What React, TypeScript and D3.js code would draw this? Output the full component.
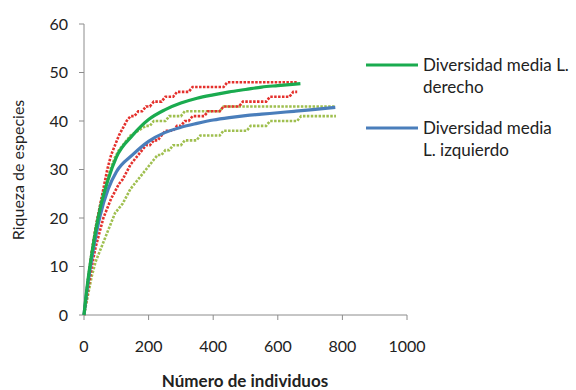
import * as d3 from "d3";

// individuals axis for the dotted rarefaction samples (every 12 individuals)
const sampleStep = 12;

// dotted series, L. derecho (red) upper / lower
const redUpper = [
  0, 7, 13, 18, 22, 26, 30, 33, 35, 37, 38.5, 40, 41, 41, 42, 42, 43, 43, 44, 44,
  44, 45, 45, 45, 46, 46, 46, 46, 47, 47, 47, 47, 47, 47, 47, 47, 47, 48, 48, 48,
  48, 48, 48, 48, 48, 48, 48, 48, 48, 48, 48, 48, 48, 48, 48, 48,
];
const redLower = [
  0, 5, 10, 14, 17, 20, 22, 24, 25.5, 27, 28, 29.5, 31, 32, 33, 34, 35, 35, 36, 36,
  37, 38, 38, 38, 39, 39, 40, 40, 41, 41, 41, 41, 42, 42, 42, 42, 43, 43, 43, 43,
  43, 44, 44, 44, 44, 44, 44, 44, 45, 45, 45, 45, 45, 45, 46, 46,
];
// dotted series, L. izquierdo (yellow-green) upper / lower
const greenUpper = [
  0, 7, 13, 18, 22, 25.5, 28, 30.5, 32.5, 34, 35, 36, 37, 37.5, 38, 38.5, 39, 39, 40, 40,
  40, 40, 41, 41, 41, 41, 42, 42, 42, 42, 42, 42, 42, 42, 42, 42, 43, 43, 43, 43,
  43, 43, 43, 43, 43, 43, 43, 43, 43, 43, 43, 43, 43, 43, 43, 43, 43, 43, 43, 43,
  43, 43, 43, 43, 43, 43,
];
const greenLower = [
  0, 4, 8, 11, 13, 15, 17, 19, 21, 22, 23, 24.5, 26, 27, 28, 29, 30, 31, 32, 33,
  33, 34, 34, 35, 35, 35, 36, 36, 36, 36, 37, 37, 37, 37, 37, 37, 38, 38, 38, 38,
  38, 38, 38, 39, 39, 39, 39, 39, 40, 40, 40, 40, 40, 40, 40, 40, 41, 41, 41, 41,
  41, 41, 41, 41, 41, 41,
];

// mean curves
const meanRightN = [0, 10, 25, 50, 75, 100, 150, 200, 250, 300, 350, 400, 450, 500, 550, 600, 670];
const meanRight = [0, 6, 13, 22, 28, 32.5, 37, 40.3, 42.3, 43.7, 44.7, 45.4, 46, 46.5, 47, 47.3, 47.7];
const meanLeftN = [0, 10, 25, 50, 75, 100, 150, 200, 250, 300, 350, 400, 450, 500, 550, 600, 650, 700, 778];
const meanLeft = [0, 5.5, 12, 20.5, 26, 29.5, 33, 35.8, 37.6, 38.7, 39.5, 40.2, 40.7, 41.1, 41.4, 41.7, 42, 42.3, 42.8];

const xTicks = [0, 200, 400, 600, 800, 1000];
const yTicks = [0, 10, 20, 30, 40, 50, 60];

const legendItems = [
  { color: "#1aab4f", lines: ["Diversidad media L.", "derecho"] },
  { color: "#4a7ebb", lines: ["Diversidad media", "L. izquierdo"] },
];

const font = "Lato, 'Open Sans', sans-serif";

export default function App() {
  const x = d3.scaleLinear().domain([0, 1000]).range([84, 407]);
  const y = d3.scaleLinear().domain([0, 60]).range([315, 24]);

  const dotted = d3
    .line<number>()
    .x((_, i) => x(i * sampleStep))
    .y((d) => y(d));

  const smooth = (ns: number[], vs: number[]) =>
    d3
      .line<number>()
      .x((_, i) => x(ns[i]))
      .y((d) => y(d))
      .curve(d3.curveMonotoneX)(vs) ?? "";

  const dottedSeries = [
    { data: greenLower, color: "#9fbf4f" },
    { data: greenUpper, color: "#9fbf4f" },
    { data: redLower, color: "#e4302c" },
    { data: redUpper, color: "#e4302c" },
  ];

  return (
    <svg
      width={576}
      height={390}
      style={{ position: "absolute", left: 0, top: 0, background: "#fff" }}
      fontFamily={font}
    >
      {/* axes */}
      <line x1={x(0)} x2={x(0)} y1={y(60)} y2={y(0)} stroke="#8c8c8c" />
      <line x1={x(0)} x2={x(1000)} y1={y(0)} y2={y(0)} stroke="#8c8c8c" />
      {yTicks.map((t) => (
        <g key={`y-${t}`}>
          <line x1={x(0) - 5} x2={x(0)} y1={y(t)} y2={y(t)} stroke="#8c8c8c" />
          <text x={68} y={y(t) + 5.5} textAnchor="end" fontSize={16} fill="#222">
            {t}
          </text>
        </g>
      ))}
      {xTicks.map((t) => (
        <g key={`x-${t}`}>
          <line x1={x(t)} x2={x(t)} y1={y(0)} y2={y(0) + 5} stroke="#8c8c8c" />
          <text x={x(t)} y={352} textAnchor="middle" fontSize={16} fill="#222">
            {t}
          </text>
        </g>
      ))}

      {/* dotted samples */}
      {dottedSeries.map((s, i) => (
        <path
          key={i}
          d={dotted(s.data) ?? ""}
          fill="none"
          stroke={s.color}
          strokeWidth={2.6}
          strokeDasharray="2.5 1.4"
        />
      ))}

      {/* mean curves */}
      <path d={smooth(meanLeftN, meanLeft)} fill="none" stroke="#4a7ebb" strokeWidth={3.2} />
      <path d={smooth(meanRightN, meanRight)} fill="none" stroke="#1aab4f" strokeWidth={3.2} />

      {/* axis titles */}
      <text
        transform={`translate(24,${170}) rotate(-90)`}
        textAnchor="middle"
        fontSize={16}
        fill="#222"
      >
        Riqueza de especies
      </text>
      <text x={245} y={387} textAnchor="middle" fontSize={17} fontWeight="bold" fill="#222">
        Número de individuos
      </text>

      {/* legend */}
      {legendItems.map((item, i) => {
        const ly = 65 + i * 63;
        return (
          <g key={i}>
            <line x1={366} x2={418} y1={ly} y2={ly} stroke={item.color} strokeWidth={3.2} />
            {item.lines.map((l, j) => (
              <text key={j} x={423} y={ly + 6 + j * 22} fontSize={17} fill="#222">
                {l}
              </text>
            ))}
          </g>
        );
      })}
    </svg>
  );
}
